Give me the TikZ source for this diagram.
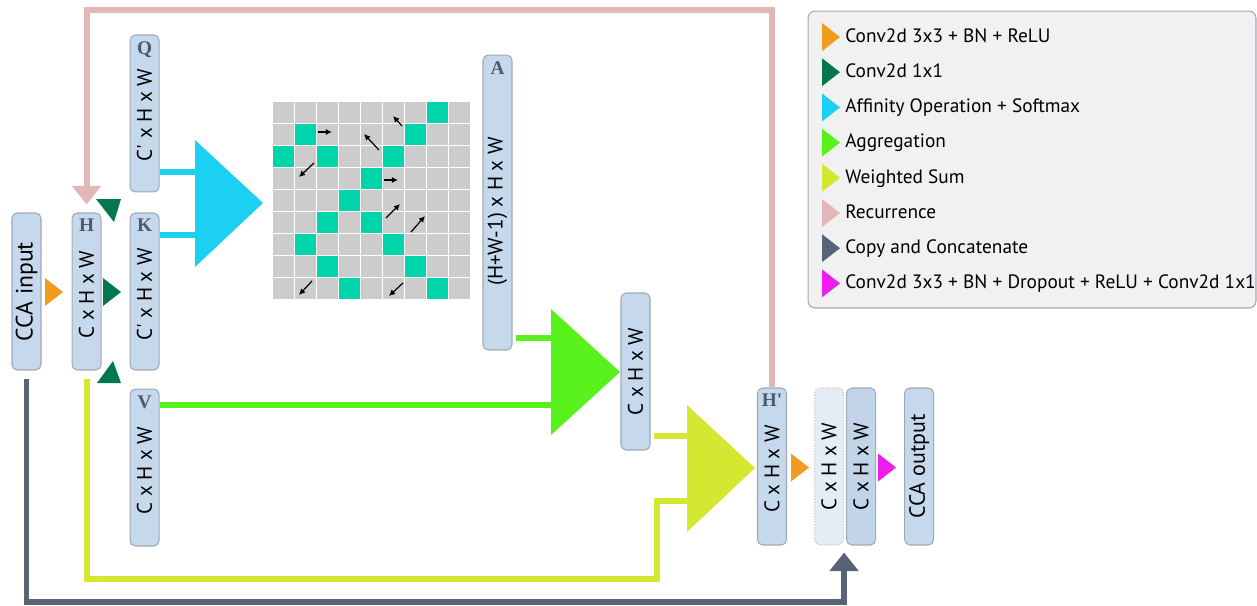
\documentclass[tikz,border=0pt]{standalone}
\usepackage{fontspec}
\setmainfont{PT Sans}[Ligatures=TeXOff]
\newfontfamily\tagfont{Liberation Serif}[Ligatures=TeXOff]
\usetikzlibrary{arrows.meta,positioning,calc}

\definecolor{mapfill}{HTML}{C6D9EC}
\definecolor{mapline}{HTML}{9FA9B5}
\definecolor{catfill}{HTML}{C2D4E8}
\definecolor{dupfill}{HTML}{E4ECF5}
\definecolor{tagc}{HTML}{4B5A6E}
\definecolor{opconv}{HTML}{F29C1F}
\definecolor{opone}{HTML}{03784F}
\definecolor{opaff}{HTML}{1CD0F1}
\definecolor{opagg}{HTML}{58F11B}
\definecolor{opsum}{HTML}{D4E832}
\definecolor{oprec}{HTML}{E1B7B7}
\definecolor{opcopy}{HTML}{566475}
\definecolor{ophead}{HTML}{EE1DEE}
\definecolor{cellg}{HTML}{CCCCCC}
\definecolor{cellt}{HTML}{00D4AA}
\definecolor{legfill}{HTML}{F1F1F1}
\definecolor{legline}{HTML}{A3A8AE}

\newcommand\legfont{\fontsize{11}{13}\selectfont}

\tikzset{
  fmap/.style={draw=mapline, line width=0.6pt, fill=mapfill, rounded corners=3pt,
    minimum width=0.58cm, minimum height=3.14cm, inner sep=0pt},
  dims/.style={rotate=90, font=\fontsize{12}{14}\selectfont, inner sep=0pt},
  tag/.style={anchor=north, yshift=-0.13cm, inner sep=0pt, text=tagc,
    font=\tagfont\bfseries\fontsize{11}{12}\selectfont},
  pipe/.style={line width=0.12cm},
  fat/.style={-{Triangle[width=0.56cm,length=0.37cm]}},
  rtri/.pic={\fill (0,-14) -- (18,0) -- (0,14) -- cycle;},
  flow/.style={line width=0.7pt, -{Latex[length=3.5pt,width=3.5pt]}},
}

\begin{document}
\begin{tikzpicture}[x=0.02cm, y=-0.02cm]
\useasboundingbox (0,0) rectangle (1257,605);

% feature maps
\node[fmap, label={[dims, font=\fontsize{13.5}{15}\selectfont]center:CCA input}] (inp) at (26.5,291.5) {};
\node[fmap, right=0.6cm of inp, label={[tag]north:H}, label={[yshift=-0.06cm, dims]center:C x H x W}] (hh) {};
\node[fmap, right=0.56cm of hh, label={[tag]north:K}, label={[yshift=-0.06cm, dims]center:C' x H x W}] (kk) {};
\node[fmap, above=0.4cm of kk, label={[tag]north:Q}, label={[yshift=-0.03cm, dims]center:C' x H x W}] (qq) {};
\node[fmap, below=0.36cm of kk, label={[tag]north:V}, label={[yshift=-0.06cm, dims]center:C x H x W}] (vv) {};
\node[fmap, minimum height=5.9cm, label={[tag]north:A}, label={[yshift=-0.18cm, dims]center:(H+W-1) x H x W}] (aa) at (497.5,202.5) {};
\node[fmap, label={[dims]center:C x H x W}] (agg) at (635.5,371.5) {};
\node[fmap, label={[tag]north:H'}, label={[yshift=-0.05cm, dims]center:C x H x W}] (hp) at (772,466.5) {};
\node[fmap, fill=dupfill, draw=mapline!70, densely dotted, right=0.54cm of hp, label={[dims]center:C x H x W}] (dup) {};
\node[fmap, fill=catfill, right=0.04cm of dup, label={[dims]center:C x H x W}] (cat) {};
\node[fmap, right=0.56cm of cat, label={[dims, font=\fontsize{12.5}{14}\selectfont]center:CCA output}] (out) {};

% affinity map
\foreach \r in {0,...,8}
  \foreach \c in {0,...,8}
    \fill[cellg] ({273+22*\c},{102+22*\r}) rectangle ++(20.7,20.7);
\foreach \r/\c in {0/7,1/1,1/6,2/0,2/2,2/5,3/4,4/3,5/2,5/4,6/1,6/5,7/2,7/6,8/3,8/7}
  \fill[cellt] ({273+22*\c},{102+22*\r}) rectangle ++(20.7,20.7);
\draw[flow] (318,132) -- (332,132);
\draw[flow] (402,126) -- (393,116);
\draw[flow] (379,150) -- (364,134);
\draw[flow] (314,163) -- (299,177);
\draw[flow] (384,180) -- (398,180);
\draw[flow] (386,218) -- (400,204);
\draw[flow] (411,232) -- (425,216);
\draw[flow] (312,281) -- (299,295);
\draw[flow] (403,283) -- (389,296);

% operations
\coordinate (af) at (195,203);
\coordinate (ag) at (551,372);
\coordinate (ws) at (687,468);
\coordinate (wsb) at (657,579);

\draw[pipe, opaff] (qq.east |- 0,172) -- (af |- 0,172);
\draw[pipe, opaff] (kk.east |- 0,235) -- (af |- 0,235);
\draw[pipe, opagg, shorten <=0.06cm] (aa.east |- 0,338) -- (ag |- 0,338);
\draw[pipe, opagg] (vv.east |- 0,405) -- (ag |- 0,405);
\draw[pipe, opsum, shorten <=0.06cm] (agg.east |- 0,436) -- (ws |- 0,436);
\draw[pipe, opsum, shorten <=0.16cm] (hh.south) |- (wsb) |- (ws |- 0,501);
\draw[pipe, oprec, fat, shorten >=0.16cm] (hp.north) -- (hp.north |- 0,10) -| (hh.north);
\draw[pipe, opcopy, fat, shorten <=0.16cm, shorten >=0.14cm] (inp.south) |- (dup.south east |- 0,602) -- (dup.south east);

\fill[opaff] (af) ++(0,-63) -- ++(68,63) -- ++(-68,64) -- cycle;
\fill[opagg] (ag) ++(0,-63) -- ++(69,63) -- ++(-69,63) -- cycle;
\fill[opsum] (ws) ++(0,-63) -- ++(68,63) -- ++(-68,64) -- cycle;

\pic[color=opconv] at (45,292) {rtri};
\pic[color=opone] at (103,292) {rtri};
\fill[opone] (96,199) -- (121,199) -- (114,222) -- cycle;
\fill[opone] (97,383) -- (121,383) -- (113,361) -- cycle;
\pic[color=opconv] at (791,467.5) {rtri};
\pic[color=ophead] at (878,467.5) {rtri};

% legend
\node[draw=legline, fill=legfill, rounded corners=4pt, line width=0.6pt,
  minimum width=8.96cm, minimum height=5.94cm, inner sep=0pt] (legend) at (1032,159.5) {};
\foreach \col/\txt [count=\i from 0] in {opconv/Conv2d 3x3 + BN + ReLU, opone/Conv2d 1x1,
    opaff/Affinity Operation + Softmax, opagg/Aggregation, opsum/Weighted Sum,
    oprec/Recurrence, opcopy/Copy and Concatenate,
    ophead/Conv2d 3x3 + BN + Dropout + ReLU + Conv2d 1x1} {
  \pic[color=\col] at (822,{37+35.2*\i}) {rtri};
  \node[anchor=west, inner sep=0pt, text height=8pt, text depth=2.5pt, font=\legfont] (lg\i) at (845,{37.5+35.2*\i}) {\txt};
}
\end{tikzpicture}
\end{document}
